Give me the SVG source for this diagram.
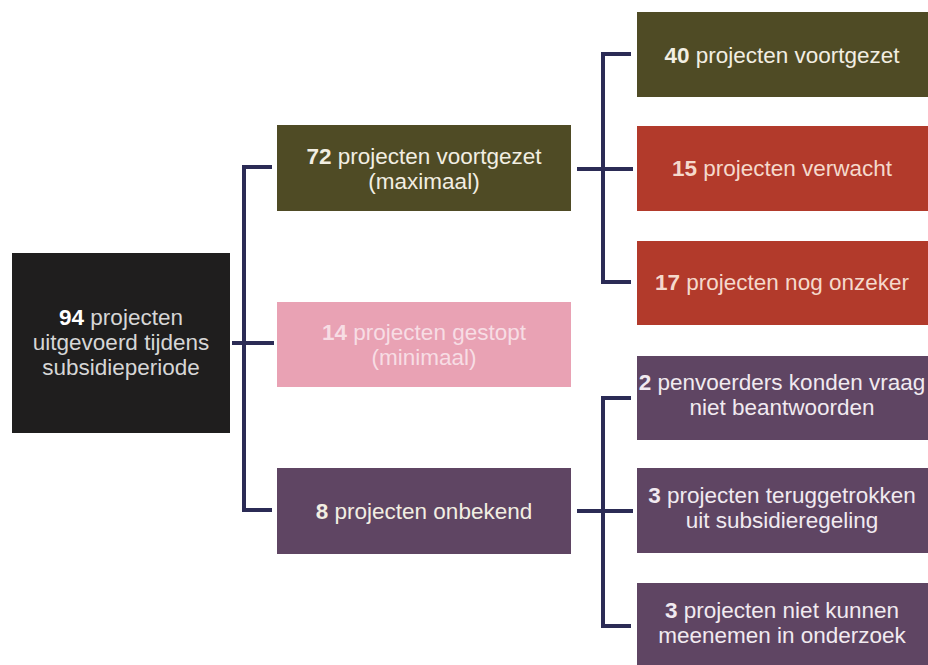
<svg xmlns="http://www.w3.org/2000/svg" width="928" height="665" viewBox="0 0 928 665">
<style>
text{font-family:"Liberation Sans","Noto Sans",sans-serif;font-size:22.5px;text-anchor:middle}
.b{font-weight:bold}
.olive{fill:#4f4b25}
.red{fill:#b23a2b}
.purple{fill:#5f4563}
.pink{fill:#e9a2b4}
.root{fill:#1f1e1e}
.tw{fill:#f2eee2}
.tr{fill:#f5d9cc}
.tp{fill:#f1eaf0}
.tk{fill:#f7dde4}
.tg{fill:#d6d6d6}
.con{fill:none;stroke:#2b2b55;stroke-width:4}
</style>
<rect width="928" height="665" fill="#ffffff"/>
<g id="connectors">
<path class="con" d="M272,167 H244 V510 H272"/>
<path class="con" d="M232,343 H274"/>
<path class="con" d="M631,54 H603 V282 H631"/>
<path class="con" d="M577,169 H633"/>
<path class="con" d="M631,398 H603 V626 H631"/>
<path class="con" d="M577,511 H633"/>
</g>
<g id="n-root">
<rect class="root" x="12" y="253" width="218" height="180"/>
<text x="121" y="325" class="tg"><tspan class="b" fill="#ffffff">94</tspan> projecten</text>
<text x="121" y="350" class="tg">uitgevoerd tijdens</text>
<text x="121" y="375" class="tg">subsidieperiode</text>
</g>
<g id="n-72">
<rect class="olive" x="277" y="125" width="294" height="86"/>
<text x="424" y="164" class="tw"><tspan class="b">72</tspan> projecten voortgezet</text>
<text x="424" y="189" class="tw">(maximaal)</text>
</g>
<g id="n-14">
<rect class="pink" x="277" y="302" width="294" height="85"/>
<text x="424" y="340" class="tk"><tspan class="b">14</tspan> projecten gestopt</text>
<text x="424" y="365" class="tk">(minimaal)</text>
</g>
<g id="n-8">
<rect class="purple" x="277" y="468" width="294" height="86"/>
<text x="424" y="519" class="tw"><tspan class="b">8</tspan> projecten onbekend</text>
</g>
<g id="n-40">
<rect class="olive" x="637" y="12" width="291" height="85"/>
<text x="782" y="63" class="tw"><tspan class="b">40</tspan> projecten voortgezet</text>
</g>
<g id="n-15">
<rect class="red" x="637" y="126" width="291" height="85"/>
<text x="782" y="176" class="tr"><tspan class="b">15</tspan> projecten verwacht</text>
</g>
<g id="n-17">
<rect class="red" x="637" y="241" width="291" height="84"/>
<text x="782" y="290" class="tr"><tspan class="b">17</tspan> projecten nog onzeker</text>
</g>
<g id="n-2">
<rect class="purple" x="637" y="356" width="291" height="84"/>
<text x="782" y="390" class="tp"><tspan class="b">2</tspan> penvoerders konden vraag</text>
<text x="782" y="415" class="tp">niet beantwoorden</text>
</g>
<g id="n-3a">
<rect class="purple" x="637" y="468" width="291" height="85"/>
<text x="782" y="503" class="tp"><tspan class="b">3</tspan> projecten teruggetrokken</text>
<text x="782" y="528" class="tp">uit subsidieregeling</text>
</g>
<g id="n-3b">
<rect class="purple" x="637" y="583" width="291" height="82"/>
<text x="782" y="618" class="tp"><tspan class="b">3</tspan> projecten niet kunnen</text>
<text x="782" y="643" class="tp">meenemen in onderzoek</text>
</g>
</svg>
